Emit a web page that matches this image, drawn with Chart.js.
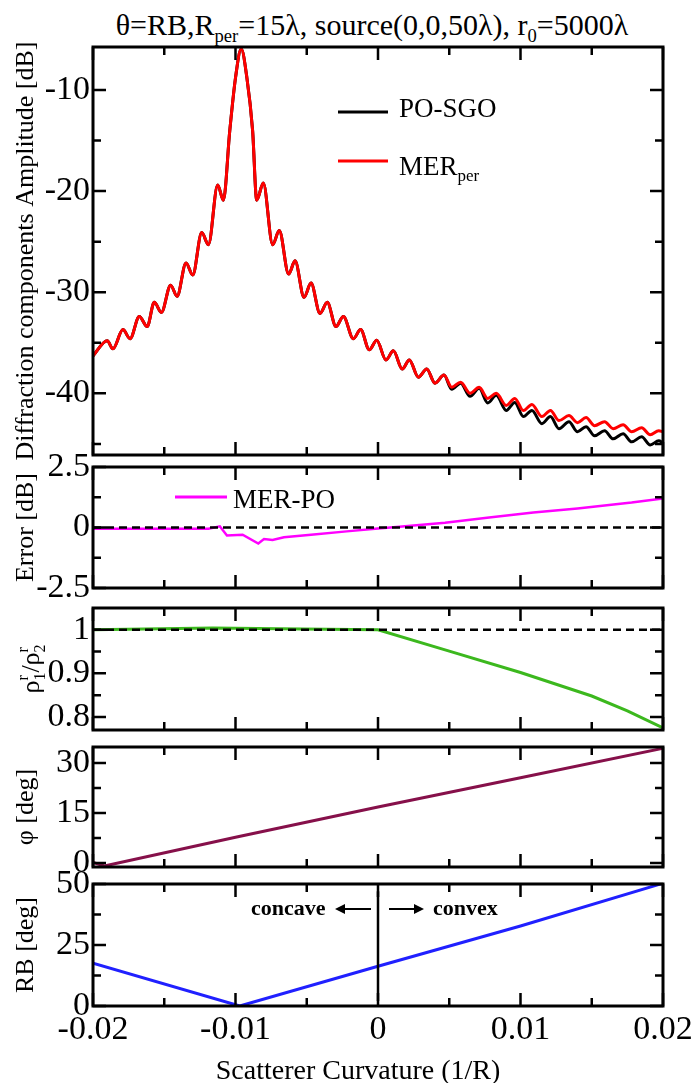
<!DOCTYPE html>
<html>
<head>
<meta charset="utf-8">
<script src="https://cdn.jsdelivr.net/npm/chart.js@4.4.1/dist/chart.umd.min.js"></script>
<style>
  html, body { margin: 0; padding: 0; background: #fff; width: 693px; height: 1083px; overflow: hidden; }
  canvas { position: absolute; left: 0; top: 0; }
  #title {
    position: absolute; left: 0; top: 7px; width: 744px; text-align: center;
    font-family: "Liberation Serif", serif; font-size: 30px; line-height: 35px; white-space: nowrap; color: #000;
  }
  #title sub { font-size: 0.62em; vertical-align: -0.35em; line-height: 0; }
</style>
</head>
<body>
<div id="title">θ=RB,R<sub>per</sub>=15λ, source(0,0,50λ), r<sub>0</sub>=5000λ</div>
<canvas id="amp" width="693" height="1090"></canvas>
<canvas id="err" width="693" height="1090"></canvas>
<canvas id="rho" width="693" height="1090"></canvas>
<canvas id="phi" width="693" height="1090"></canvas>
<canvas id="rb" width="693" height="1090"></canvas>
<script>
// curvature 1/R on the shared x axis
const xTicks = [-0.02, -0.01, 0, 0.01, 0.02];
const xMinor = [-0.015, -0.005, 0.005, 0.015];

// diffraction amplitude (dB), read at the ripple peaks / troughs
const ampX = [-0.0200, -0.0190, -0.0186, -0.0179, -0.0174, -0.01675, -0.0162, -0.0157, -0.0152, -0.01455,
  -0.0141, -0.01347, -0.0130, -0.01237, -0.0119, -0.01125, -0.01085, -0.0104, -0.0100, -0.0096,
  -0.0092, -0.0088, -0.00851, -0.00805, -0.00739, -0.00693, -0.00627, -0.00582, -0.00519, -0.0047,
  -0.00407, -0.00356, -0.00295, -0.00243, -0.00173, -0.00122, -0.00061, -0.00009, 0.00056, 0.00108,
  0.0017, 0.0022, 0.00283, 0.00342, 0.0040, 0.00463, 0.00517, 0.0058, 0.00646, 0.0071,
  0.0077, 0.0083, 0.0090, 0.0096, 0.0102, 0.0108, 0.0115, 0.0121, 0.0127, 0.0134,
  0.0140, 0.0146, 0.0152, 0.0159, 0.0165, 0.0172, 0.0178, 0.0185, 0.0191, 0.0197, 0.0200];
const poSgo = [-36.3, -34.8, -35.6, -33.7, -34.6, -32.4, -33.4, -31.0, -32.0, -29.3,
  -30.4, -27.1, -28.3, -24.1, -25.3, -19.4, -20.9, -14.0, -8.8, -5.95,
  -8.8, -14.0, -20.9, -19.2, -25.3, -23.9, -28.2, -26.9, -30.5, -29.1,
  -32.1, -31.0, -33.4, -32.4, -34.6, -33.7, -35.7, -34.75, -36.7, -35.8,
  -37.6, -36.7, -38.4, -37.6, -39.0, -38.2, -39.6, -39.0, -40.3, -39.5,
  -40.95, -40.2, -41.7, -40.9, -42.3, -41.7, -43.0, -42.3, -43.5, -42.8,
  -43.8, -43.3, -44.2, -43.7, -44.5, -44.0, -44.8, -44.3, -45.1, -44.7, -44.9];
const merPer = [-36.3, -34.8, -35.6, -33.7, -34.6, -32.4, -33.4, -31.0, -32.0, -29.3,
  -30.4, -27.1, -28.3, -24.1, -25.3, -19.4, -20.9, -14.0, -8.8, -5.95,
  -8.8, -14.0, -20.9, -19.2, -25.3, -23.9, -28.2, -26.9, -30.5, -29.1,
  -32.1, -31.0, -33.4, -32.4, -34.6, -33.7, -35.7, -34.75, -36.7, -35.8,
  -37.6, -36.7, -38.4, -37.6, -39.0, -38.2, -39.4, -38.9, -40.0, -39.4,
  -40.5, -40.0, -41.2, -40.5, -41.7, -41.1, -42.3, -41.7, -42.7, -42.2,
  -42.9, -42.4, -43.2, -42.8, -43.5, -43.1, -43.8, -43.4, -44.1, -43.7, -43.8];
const ampTicks = [-40, -30, -20, -10];
const ampMinor = [-45, -35, -25, -15];

// error MER-PO (dB)
const errX = [-0.02, -0.0119, -0.0111, -0.0106, -0.0095, -0.0084, -0.0080, -0.0074, -0.0066, -0.0047,
  -0.0022, 0, 0.0015, 0.0047, 0.0078, 0.0109, 0.0140, 0.0178, 0.0200];
const merPo = [-0.05, -0.05, 0.05, -0.33, -0.30, -0.66, -0.48, -0.52, -0.40, -0.30,
  -0.16, -0.04, 0.03, 0.20, 0.41, 0.62, 0.79, 1.03, 1.20];
const errTicks = [-2.5, 0, 2.5];
const errMinor = [-1.25, 1.25];

// rho1r / rho2r
const rhoX = [-0.02, -0.0116, -0.0053, 0, 0.005, 0.010, 0.015, 0.0175, 0.020];
const rhoRatio = [1.0, 1.004, 1.002, 1.0, 0.951, 0.902, 0.848, 0.814, 0.775];
const rhoTicks = [0.8, 0.9, 1];
const rhoMinor = [0.85, 0.95];

// phi (deg)
const phiX = [-0.02, -0.0192, -0.01, 0, 0.01, 0.02];
const phiDeg = [0.2, -0.9, 7.7, 16.8, 25.6, 34.4];
const phiTicks = [0, 15, 30];
const phiMinor = [7.5, 22.5];

// RB (deg)
const rbX = [-0.02, -0.0097, 0, 0.01, 0.02];
const rbDeg = [17.5, 0, 16.3, 32.8, 50.3];
const rbTicks = [0, 25, 50];
const rbMinor = [12.5, 37.5];

// reference lines
const refX = [-0.02, 0.02];
const zeroErr = [0, 0];
const oneRho = [1, 1];
const dividerX = [0, 0];
const dividerY = [2, 47];

const FONT = '"Liberation Serif", "Times New Roman", serif';
const W = 693, H = 1090;
const plotLeft = 93, plotRight = 663, axisBottom = 1086;

const pts = (xs, ys) => xs.map((x, i) => ({ x: x, y: ys[i] }));

function drawRich(ctx, parts, x, y, size, dry) {
  let cx = x;
  const big = size + 'px ' + FONT;
  const small = Math.round(size * 0.62) + 'px ' + FONT;
  parts.forEach(p => {
    ctx.font = big;
    if (!dry) ctx.fillText(p.t, cx, y);
    cx += ctx.measureText(p.t).width;
    ctx.font = small;
    let w = 0;
    if (p.sub) {
      if (!dry) ctx.fillText(p.sub, cx, y + size * 0.24);
      w = ctx.measureText(p.sub).width;
    }
    if (p.sup) {
      if (!dry) ctx.fillText(p.sup, cx, y - size * 0.42);
      w = Math.max(w, ctx.measureText(p.sup).width);
    }
    cx += w;
  });
  return cx - x;
}

// box, inward ticks, legends and notes
const panelFrame = {
  id: 'panelFrame',
  afterDatasetsDraw(chart, args, opts) {
    const ctx = chart.ctx, a = chart.chartArea;
    const xs = chart.scales.x, ys = chart.scales.y;
    ctx.save();
    ctx.strokeStyle = '#000';
    ctx.lineWidth = 2.5;
    ctx.beginPath();
    const vt = (v, len) => {
      const p = xs.getPixelForValue(v);
      ctx.moveTo(p, a.top); ctx.lineTo(p, a.top + len);
      ctx.moveTo(p, a.bottom); ctx.lineTo(p, a.bottom - len);
    };
    const ht = (v, len) => {
      const p = ys.getPixelForValue(v);
      ctx.moveTo(a.left, p); ctx.lineTo(a.left + len, p);
      ctx.moveTo(a.right, p); ctx.lineTo(a.right - len, p);
    };
    xTicks.forEach(v => vt(v, 13));
    xMinor.forEach(v => vt(v, 8));
    opts.yMajor.forEach(v => ht(v, 13));
    opts.yMinor.forEach(v => ht(v, 8));
    ctx.stroke();
    ctx.lineWidth = 3;
    ctx.strokeRect(a.left, a.top, a.right - a.left, a.bottom - a.top);

    ctx.textAlign = 'left';
    ctx.textBaseline = 'alphabetic';
    (opts.legend || []).forEach(item => {
      ctx.strokeStyle = chart.data.datasets[item.ds].borderColor;
      ctx.lineWidth = 3;
      ctx.beginPath();
      ctx.moveTo(item.x1, item.y); ctx.lineTo(item.x2, item.y);
      ctx.stroke();
      ctx.fillStyle = '#000';
      drawRich(ctx, item.label, item.tx, item.ty, 27);
    });

    (opts.notes || []).forEach(n => {
      ctx.fillStyle = '#000';
      ctx.font = 'bold 22px ' + FONT;
      ctx.fillText(n.text, n.x, n.y);
    });
    (opts.arrows || []).forEach(ar => {
      const dir = Math.sign(ar.x2 - ar.x1);
      ctx.strokeStyle = '#000';
      ctx.fillStyle = '#000';
      ctx.lineWidth = 2;
      ctx.beginPath();
      ctx.moveTo(ar.x1, ar.y); ctx.lineTo(ar.x2 - dir * 6, ar.y);
      ctx.stroke();
      ctx.beginPath();
      ctx.moveTo(ar.x2, ar.y);
      ctx.lineTo(ar.x2 - dir * 10, ar.y - 5);
      ctx.lineTo(ar.x2 - dir * 10, ar.y + 5);
      ctx.closePath();
      ctx.fill();
    });

    if (opts.xTitle) {
      ctx.fillStyle = '#000';
      ctx.font = '28px ' + FONT;
      ctx.textAlign = 'center';
      ctx.textBaseline = 'middle';
      ctx.fillText(opts.xTitle.text, opts.xTitle.cx, opts.xTitle.cy);
    }

    if (opts.richTitle) {
      const rt = opts.richTitle;
      ctx.fillStyle = '#000';
      ctx.textAlign = 'left';
      ctx.textBaseline = 'alphabetic';
      ctx.translate(rt.cx, rt.cy);
      ctx.rotate(-Math.PI / 2);
      const w = drawRich(ctx, rt.parts, 0, 0, rt.size, true);
      drawRich(ctx, rt.parts, -w / 2, rt.size * 0.33, rt.size);
    }
    ctx.restore();
  }
};

function makePanel(id, cfg) {
  const isBottom = !!cfg.xTitle;
  return new Chart(document.getElementById(id), {
    type: 'line',
    data: { datasets: cfg.datasets },
    options: {
      responsive: false,
      animation: false,
      events: [],
      layout: {
        padding: { left: 0, right: W - plotRight, top: cfg.top, bottom: isBottom ? H - axisBottom : H - cfg.bottom }
      },
      elements: { point: { radius: 0 }, line: { borderWidth: 3, tension: 0 } },
      plugins: {
        legend: { display: false },
        tooltip: { enabled: false },
        panelFrame: {
          yMajor: cfg.yMajor, yMinor: cfg.yMinor, legend: cfg.legend,
          notes: cfg.notes, arrows: cfg.arrows, richTitle: cfg.richTitle, xTitle: cfg.xTitle
        }
      },
      scales: {
        x: {
          type: 'linear', min: -0.02, max: 0.02, display: isBottom,
          grid: { display: false, drawTicks: false },
          border: { display: false },
          afterBuildTicks: s => { s.ticks = xTicks.map(v => ({ value: v })); },
          afterFit: s => {
            s.height = isBottom ? axisBottom - cfg.bottom : 0;
            s.paddingLeft = 0; s.paddingRight = 0;
          },
          ticks: { font: { family: FONT, size: 34 }, color: '#000', padding: 4, maxRotation: 0, callback: v => String(v) }
        },
        y: {
          type: 'linear', min: cfg.yMin, max: cfg.yMax,
          grid: { display: false, drawTicks: false },
          border: { display: false },
          afterBuildTicks: s => { s.ticks = cfg.yMajor.map(v => ({ value: v })); },
          afterFit: s => { s.width = plotLeft; s.paddingTop = 0; s.paddingBottom = 0; },
          ticks: { font: { family: FONT, size: 34 }, color: '#000', padding: 3, callback: v => String(v) },
          title: {
            display: !!cfg.yTitle, text: cfg.yTitle || '', font: { family: FONT, size: 26 },
            color: '#000', padding: { top: 11, bottom: 0 }
          }
        }
      }
    },
    plugins: [panelFrame]
  });
}

makePanel('amp', {
  top: 47, bottom: 455, yMin: -46.1, yMax: -5.75, yMajor: ampTicks, yMinor: ampMinor,
  yTitle: 'Diffraction components Amplitude [dB]',
  datasets: [
    { label: 'MER_per', data: pts(ampX, merPer), borderColor: '#ff0000', cubicInterpolationMode: 'monotone' },
    { label: 'PO-SGO', data: pts(ampX, poSgo), borderColor: '#000000', cubicInterpolationMode: 'monotone' }
  ],
  legend: [
    { ds: 1, x1: 338, x2: 388, y: 112, tx: 399, ty: 117, label: [{ t: 'PO-SGO' }] },
    { ds: 0, x1: 338, x2: 388, y: 161, tx: 399, ty: 175, label: [{ t: 'MER', sub: 'per' }] }
  ]
});

makePanel('err', {
  top: 467, bottom: 588, yMin: -2.5, yMax: 2.5, yMajor: errTicks, yMinor: errMinor,
  yTitle: 'Error [dB]',
  datasets: [
    { data: pts(refX, zeroErr), borderColor: '#000000', borderWidth: 2.5, borderDash: [8, 5] },
    { label: 'MER-PO', data: pts(errX, merPo), borderColor: '#ff00ff', borderWidth: 2.5 }
  ],
  legend: [
    { ds: 1, x1: 175, x2: 227, y: 497, tx: 233, ty: 508, label: [{ t: 'MER-PO' }] }
  ]
});

makePanel('rho', {
  top: 608, bottom: 730, yMin: 0.77, yMax: 1.05, yMajor: rhoTicks, yMinor: rhoMinor,
  datasets: [
    { data: pts(refX, oneRho), borderColor: '#000000', borderWidth: 2.5, borderDash: [8, 5] },
    { data: pts(rhoX, rhoRatio), borderColor: '#3cb81e' }
  ],
  richTitle: {
    cx: 30, cy: 669, size: 26,
    parts: [{ t: 'ρ', sub: '1', sup: 'r' }, { t: '/ρ', sub: '2', sup: 'r' }]
  }
});

makePanel('phi', {
  top: 747, bottom: 867, yMin: -1.2, yMax: 34.8, yMajor: phiTicks, yMinor: phiMinor,
  yTitle: 'φ [deg]',
  datasets: [
    { data: pts(phiX, phiDeg), borderColor: '#86104a' }
  ]
});

makePanel('rb', {
  top: 884, bottom: 1006, yMin: 0, yMax: 50, yMajor: rbTicks, yMinor: rbMinor,
  yTitle: 'RB [deg]',
  xTitle: { text: 'Scatterer Curvature (1/R)', cx: 358, cy: 1072 },
  datasets: [
    { data: pts(dividerX, dividerY), borderColor: '#000000', borderWidth: 2.5 },
    { data: pts(rbX, rbDeg), borderColor: '#2020ff' }
  ],
  notes: [
    { text: 'concave', x: 251, y: 915 },
    { text: 'convex', x: 433, y: 915 }
  ],
  arrows: [
    { x1: 371, x2: 335, y: 909 },
    { x1: 389, x2: 424, y: 909 }
  ]
});
</script>
</body>
</html>
